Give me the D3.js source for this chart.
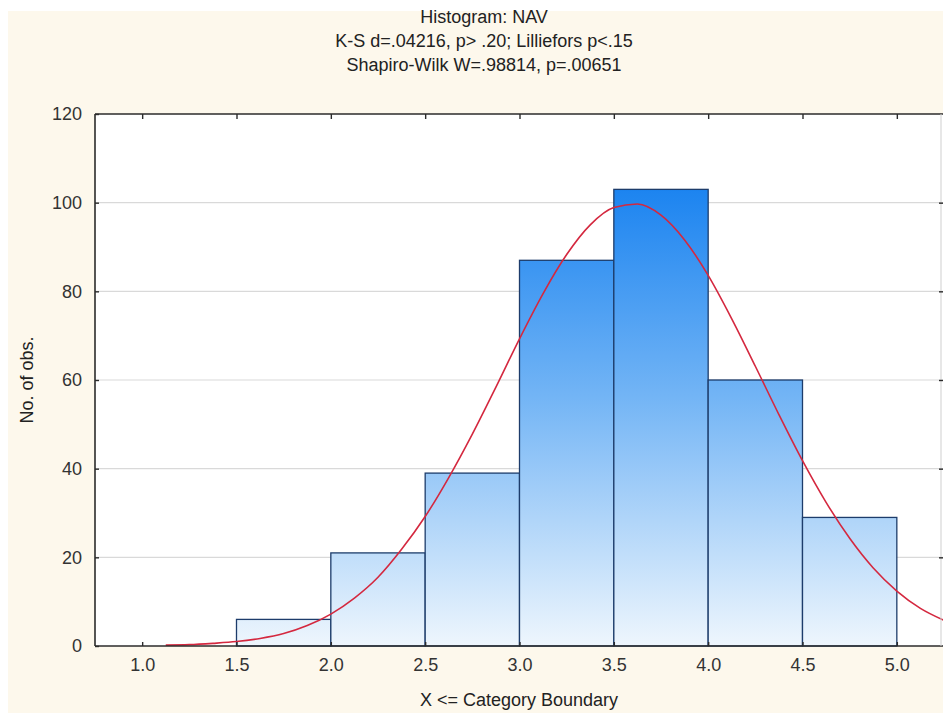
<!DOCTYPE html>
<html>
<head>
<meta charset="utf-8">
<script src="https://cdn.jsdelivr.net/npm/d3@7"></script>
<style>
    body { margin: 0; background: #ffffff; }
    svg { display: block; font-family: "Liberation Sans", Arial, sans-serif; }
</style>
</head>
<body>
<div id="chart"></div>
<script>

// histogram bins (lower boundary) and counts
const binStarts = [1.0, 1.5, 2.0, 2.5, 3.0, 3.5, 4.0, 4.5];
const binWidth = 0.5;
const counts = [0, 6, 21, 39, 87, 103, 60, 29];

// fitted normal curve
const curveX = [1.125, 1.25, 1.375, 1.5, 1.625, 1.75, 1.875, 2.0, 2.125, 2.25, 2.375, 2.5, 2.625, 2.75, 2.875,
    3.0, 3.125, 3.25, 3.375, 3.5, 3.625, 3.75, 3.875, 4.0, 4.125, 4.25, 4.375, 4.5, 4.625, 4.75, 4.875, 5.0, 5.125, 5.25];
const curveY = [0.2, 0.3, 0.6, 1.0, 1.7, 2.8, 4.6, 7.2, 10.8, 15.5, 21.8, 29.2, 38.0, 47.8, 58.4,
    69.3, 79.5, 88.3, 95.0, 98.9, 99.7, 97.2, 91.6, 83.6, 73.8, 63.1, 52.2, 41.8, 32.4, 24.3, 17.6, 12.4, 8.5, 5.8];

const xTicks = [1.0, 1.5, 2.0, 2.5, 3.0, 3.5, 4.0, 4.5, 5.0];
const yTicks = [0, 20, 40, 60, 80, 100, 120];

const titleLines = [
    "Histogram: NAV",
    "K-S d=.04216, p> .20; Lilliefors p<.15",
    "Shapiro-Wilk W=.98814, p=.00651"
];
const xTitle = "X <= Category Boundary";
const yTitle = "No. of obs.";

let width = 943, height = 713;
let plot = {left: 95, top: 114, right: 944, bottom: 646};
let fontSize = "18px";

let svg = d3.select("#chart").append("svg")
    .attr("width", width)
    .attr("height", height);

// background panels
svg.append("rect")
    .attr("x", 8).attr("y", 11)
    .attr("width", width - 8).attr("height", height - 11)
    .attr("fill", "#fdf8ec");

svg.append("rect")
    .attr("x", plot.left).attr("y", plot.top)
    .attr("width", plot.right - plot.left).attr("height", plot.bottom - plot.top)
    .attr("fill", "#ffffff");

let x = d3.scaleLinear()
    .domain([0.75, 5.25])
    .range([plot.left, plot.right]);

let y = d3.scaleLinear()
    .domain([0, 120])
    .range([plot.bottom, plot.top]);

// gradient fixed to the plot, so short bars are paler at the top
let defs = svg.append("defs");
let grad = defs.append("linearGradient")
    .attr("id", "barGrad")
    .attr("gradientUnits", "userSpaceOnUse")
    .attr("x1", 0).attr("x2", 0)
    .attr("y1", y(103)).attr("y2", y(0));
grad.append("stop").attr("offset", "0%").attr("stop-color", "#1c84f0");
grad.append("stop").attr("offset", "45%").attr("stop-color", "#72b4f5");
grad.append("stop").attr("offset", "100%").attr("stop-color", "#eef6fd");

defs.append("clipPath").attr("id", "plotClip")
    .append("rect")
    .attr("x", plot.left).attr("y", plot.top)
    .attr("width", plot.right - plot.left).attr("height", plot.bottom - plot.top);

// gridlines
svg.append("g")
    .selectAll("line")
    .data(yTicks.filter(d => d > 0 && d < 120))
    .enter()
    .append("line")
    .attr("x1", plot.left).attr("x2", plot.right)
    .attr("y1", d => y(d)).attr("y2", d => y(d))
    .attr("stroke", "#d9d9d9")
    .attr("stroke-width", 1.2);

// bars
let bins = binStarts.map((s, i) => ({x0: s, x1: s + binWidth, n: counts[i]}))
    .filter(d => d.n > 0);

svg.append("g")
    .selectAll("rect")
    .data(bins)
    .enter()
    .append("rect")
    .attr("x", d => x(d.x0))
    .attr("y", d => y(d.n))
    .attr("width", d => x(d.x1) - x(d.x0))
    .attr("height", d => y(0) - y(d.n))
    .attr("fill", "url(#barGrad)")
    .attr("stroke", "#1d3c6b")
    .attr("stroke-width", 1.3);

// normal fit
let line = d3.line()
    .x((d, i) => x(curveX[i]))
    .y(d => y(d))
    .curve(d3.curveMonotoneX);

svg.append("path")
    .datum(curveY)
    .attr("clip-path", "url(#plotClip)")
    .attr("d", line)
    .attr("fill", "none")
    .attr("stroke", "#d4283f")
    .attr("stroke-width", 1.6);

// frame
let frame = svg.append("g").attr("stroke", "#2b2b2b").attr("stroke-width", 1.6);
frame.append("line").attr("x1", plot.left).attr("x2", plot.right).attr("y1", plot.top).attr("y2", plot.top);
frame.append("line").attr("x1", plot.left).attr("x2", plot.right).attr("y1", plot.bottom).attr("y2", plot.bottom);
frame.append("line").attr("x1", plot.left).attr("x2", plot.left).attr("y1", plot.top).attr("y2", plot.bottom);
svg.append("line")
    .attr("x1", 941).attr("x2", 941).attr("y1", plot.top).attr("y2", plot.bottom)
    .attr("stroke", "#cfcfcf");

// axes (ticks point inward)
let xAxisBottom = d3.axisBottom(x).tickValues(xTicks).tickFormat(d3.format(".1f"))
    .tickSizeInner(-4).tickSizeOuter(0).tickPadding(12);
let gx = svg.append("g")
    .attr("transform", `translate(0, ${plot.bottom})`)
    .call(xAxisBottom);
gx.select(".domain").remove();

let xAxisTop = d3.axisTop(x).tickValues(xTicks).tickFormat("").tickSizeInner(-5).tickSizeOuter(0);
let gxt = svg.append("g")
    .attr("transform", `translate(0, ${plot.top})`)
    .call(xAxisTop);
gxt.select(".domain").remove();

let yAxis = d3.axisLeft(y).tickValues(yTicks).tickSizeInner(-4).tickSizeOuter(0).tickPadding(13);
let gy = svg.append("g")
    .attr("transform", `translate(${plot.left}, 0)`)
    .call(yAxis);
gy.select(".domain").remove();

let yAxisRight = d3.axisRight(y).tickValues(yTicks.filter(d => d > 0 && d < 120)).tickFormat("")
    .tickSizeInner(-4).tickSizeOuter(0);
let gyr = svg.append("g")
    .attr("transform", `translate(943, 0)`)
    .call(yAxisRight);
gyr.select(".domain").remove();

svg.selectAll(".tick line").attr("stroke", "#2b2b2b").attr("stroke-width", 1.4);
svg.selectAll(".tick text")
    .attr("fill", "#333333")
    .style("font-size", fontSize)
    .style("font-family", "'Liberation Sans', Arial, sans-serif");

// titles
svg.append("g")
    .selectAll("text")
    .data(titleLines)
    .enter()
    .append("text")
    .attr("x", 484)
    .attr("y", (d, i) => 23 + i * 24)
    .attr("text-anchor", "middle")
    .attr("fill", "#222222")
    .style("font-size", fontSize)
    .text(d => d);

svg.append("text")
    .attr("x", 519)
    .attr("y", 706)
    .attr("text-anchor", "middle")
    .attr("fill", "#222222")
    .style("font-size", fontSize)
    .text(xTitle);

svg.append("text")
    .attr("transform", `translate(33, ${(plot.top + plot.bottom) / 2}) rotate(-90)`)
    .attr("text-anchor", "middle")
    .attr("fill", "#222222")
    .style("font-size", fontSize)
    .text(yTitle);

</script>
</body>
</html>
